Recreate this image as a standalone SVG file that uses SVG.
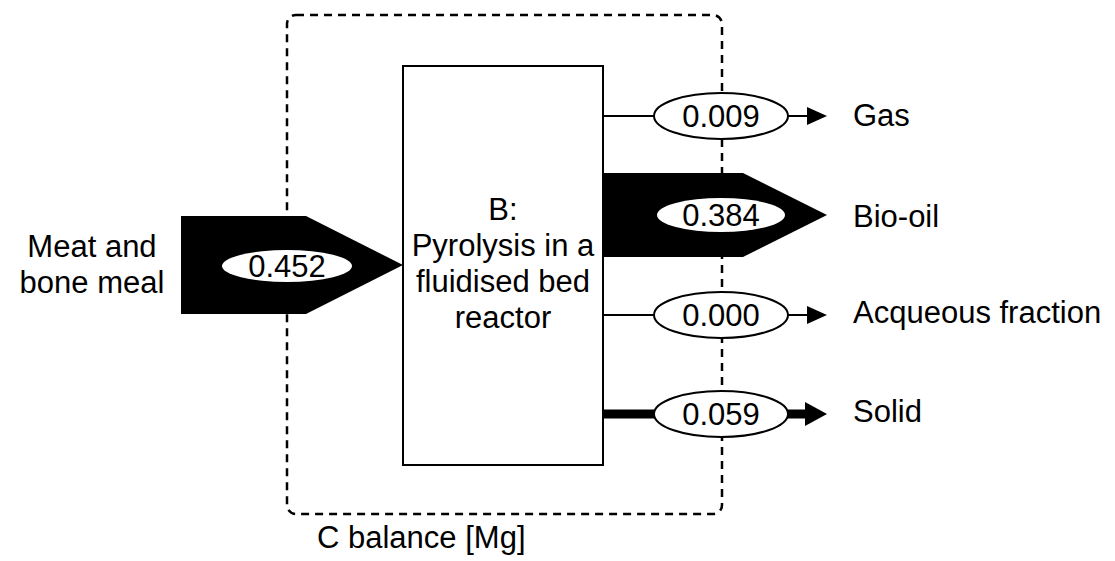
<svg xmlns="http://www.w3.org/2000/svg" width="1115" height="561" viewBox="0 0 1115 561">
<style>
text{font-family:"Liberation Sans",Arial,sans-serif;font-size:31px;fill:#000}
.c{text-anchor:middle}
.val{fill:#fff;stroke:#000;stroke-width:2}
.ln{stroke:#000;stroke-width:2;fill:none}
.fill{fill:#000;stroke:none}
</style>
<rect width="1115" height="561" fill="#fff"/>
<g id="balance">
<rect x="287" y="15" width="435" height="499" rx="9" ry="9" fill="none" stroke="#000" stroke-width="2.5" stroke-dasharray="8,6"/>
<text x="317" y="548">C balance [Mg]</text>
</g>
<g id="connectors">
<path class="fill" d="M181,216 H306 L403,265 L306,314 H181 Z"/>
<line class="ln" x1="603" y1="116" x2="810" y2="116"/>
<path class="fill" d="M807,107 L827,116 L807,125 Z"/>
<path class="fill" d="M603,173 H743 L827,215 L743,257 H603 Z"/>
<line class="ln" x1="603" y1="315" x2="810" y2="315"/>
<path class="fill" d="M807,306 L827,315 L807,324 Z"/>
<line x1="603" y1="414" x2="810" y2="414" stroke="#000" stroke-width="9"/>
<path class="fill" d="M805,402 L827,414 L805,426 Z"/>
</g>
<g id="reactor">
<rect x="403" y="66" width="200" height="399" fill="#fff" stroke="#000" stroke-width="2"/>
<text class="c" x="503" y="220">B:</text>
<text class="c" x="503" y="256">Pyrolysis in a</text>
<text class="c" x="503" y="292">fluidised bed</text>
<text class="c" x="503" y="328">reactor</text>
</g>
<g id="input">
<ellipse cx="287" cy="266" rx="65" ry="16" fill="#fff"/>
<text class="c" x="287" y="277">0.452</text>
<text class="c" x="92" y="257">Meat and</text>
<text class="c" x="92" y="293">bone meal</text>
</g>
<g id="gas">
<ellipse class="val" cx="721" cy="116" rx="67" ry="23"/>
<text class="c" x="721" y="127">0.009</text>
<text x="853" y="126">Gas</text>
</g>
<g id="biooil">
<ellipse cx="721" cy="215" rx="64" ry="17" fill="#fff"/>
<text class="c" x="721" y="226">0.384</text>
<text x="853" y="227">Bio-oil</text>
</g>
<g id="aqueous">
<ellipse class="val" cx="721" cy="315" rx="67" ry="23"/>
<text class="c" x="721" y="326">0.000</text>
<text x="853" y="323">Acqueous fraction</text>
</g>
<g id="solid">
<ellipse class="val" cx="721" cy="414" rx="67" ry="23"/>
<text class="c" x="721" y="425">0.059</text>
<text x="853" y="422">Solid</text>
</g>
</svg>
